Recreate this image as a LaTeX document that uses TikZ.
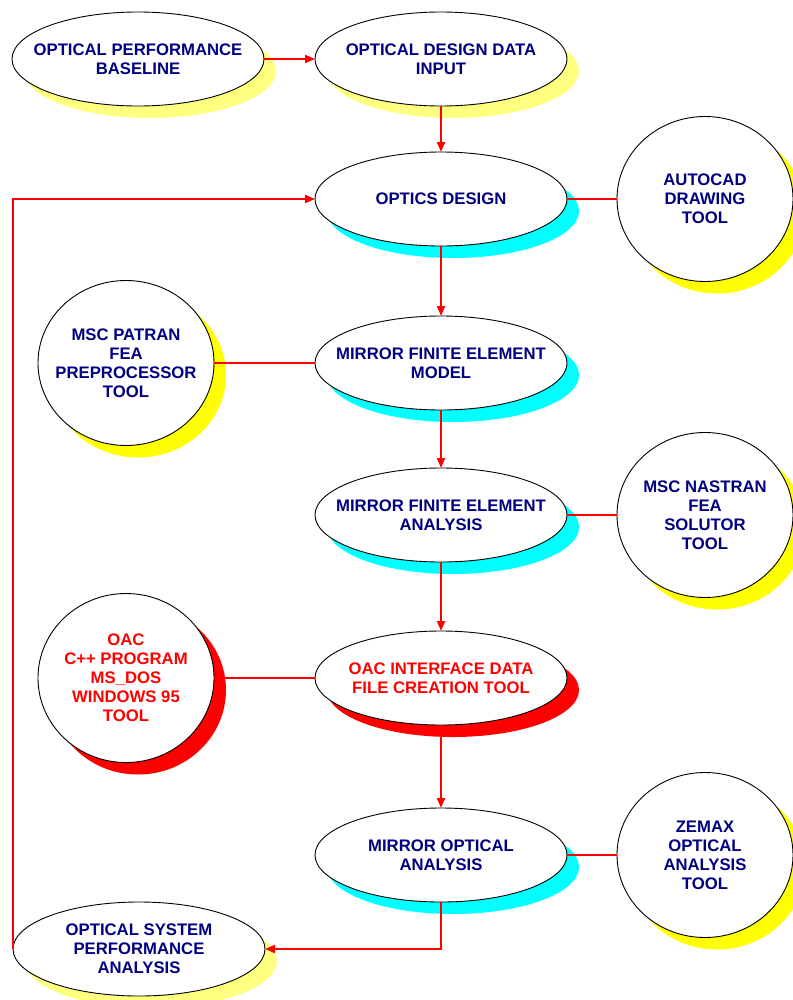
\documentclass[tikz,border=0pt]{standalone}
\usepackage{fontspec}
\setmainfont{Liberation Sans}
\usetikzlibrary{shapes.geometric,shadows,arrows.meta}
\definecolor{navy}{RGB}{0,0,128}
\definecolor{paleyellow}{RGB}{255,255,128}
\definecolor{brightyellow}{RGB}{255,255,0}
\definecolor{aqua}{RGB}{0,255,255}
\definecolor{pure red}{RGB}{255,0,0}
\tikzset{
	oval/.style={ellipse, draw=black, line width=0.9bp, fill=white, minimum width=252bp, minimum height=94bp, inner xsep=-20bp, inner ysep=0bp, outer sep=0bp, align=center, text=navy, font=\fontsize{16.7bp}{19bp}\selectfont\bfseries},
	tool/.style={oval, minimum width=176bp, minimum height=165bp},
	shade/.style={drop shadow={shadow xshift=12bp, shadow yshift=-12bp, fill=#1, opacity=1}},
	link/.style={draw=pure red, line width=2bp},
	flow/.style={link, -{Triangle[length=10bp,width=8bp]}}
}
\begin{document}
\begin{tikzpicture}[x=1bp, y=-1bp]
	\useasboundingbox (0,0) rectangle (793,1000);
	\node[oval, shade=paleyellow] (base) at (138,59) {OPTICAL PERFORMANCE\\BASELINE};
	\node[oval, shade=paleyellow] (input) at (441,59) {OPTICAL DESIGN DATA\\INPUT};
	\node[oval, shade=aqua] (design) at (441,199) {OPTICS DESIGN};
	\node[tool, shade=brightyellow] (autocad) at (705,199) {AUTOCAD\\DRAWING\\TOOL};
	\node[tool, shade=brightyellow] (patran) at (126,363) {MSC PATRAN\\FEA\\PREPROCESSOR\\TOOL};
	\node[oval, shade=aqua] (model) at (441,363) {MIRROR FINITE ELEMENT\\MODEL};
	\node[oval, shade=aqua] (fea) at (441,515) {MIRROR FINITE ELEMENT\\ANALYSIS};
	\node[tool, shade=brightyellow] (nastran) at (705,515) {MSC NASTRAN\\FEA\\SOLUTOR\\TOOL};
	\node[tool, shade=pure red, text=pure red, minimum height=169bp] (oac) at (126,678) {OAC\\C++ PROGRAM\\MS\_DOS\\WINDOWS 95\\TOOL};
	\node[oval, shade=pure red, text=pure red] (oacfile) at (441,678) {OAC INTERFACE DATA\\FILE CREATION TOOL};
	\node[oval, shade=aqua] (optan) at (441,855) {MIRROR OPTICAL\\ANALYSIS};
	\node[tool, shade=brightyellow] (zemax) at (705,855) {ZEMAX\\OPTICAL\\ANALYSIS\\TOOL};
	\node[oval, shade=paleyellow] (system) at (139,949) {OPTICAL SYSTEM\\PERFORMANCE\\ANALYSIS};

	\draw[flow] (base) -- (input);
	\draw[flow] (input) -- (design);
	\draw[flow] (design) -- (model);
	\draw[flow] (model) -- (fea);
	\draw[flow] (fea) -- (oacfile);
	\draw[flow] (oacfile) -- (optan);
	\draw[flow] (optan.south) |- (system.east);
	\draw[flow] (system.west) |- (design.west);
	\draw[link] (design) -- (autocad);
	\draw[link] (patran) -- (model);
	\draw[link] (fea) -- (nastran);
	\draw[link] (oac) -- (oacfile);
	\draw[link] (optan) -- (zemax);
\end{tikzpicture}
\end{document}
